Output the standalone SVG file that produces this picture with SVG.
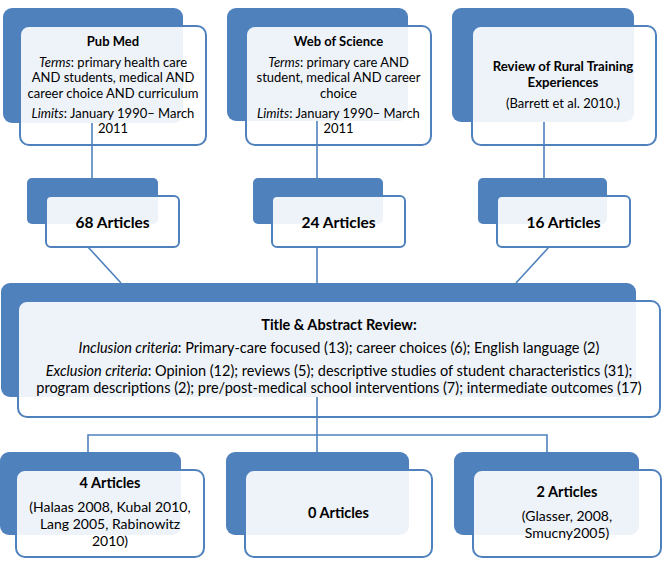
<svg xmlns="http://www.w3.org/2000/svg" width="664" height="570" viewBox="0 0 664 570">
<style>
.back{fill:#4F81BD}
.front{fill:#ffffff;fill-opacity:0.9;stroke:#4F81BD;stroke-width:2}
.con line,.con path{stroke:#4F81BD;stroke-width:1.6;fill:none}
text{font-family:Lato,"Open Sans","Liberation Sans",sans-serif;fill:#000;text-anchor:middle}
.t{font-size:13px;font-weight:bold}
.r{font-size:13.2px;font-weight:bold}
.b{font-size:13px}
.m{font-size:15.5px;font-weight:bold}
.tt{font-size:14.5px;font-weight:bold}
.c{font-size:14.5px}
.s{font-size:14px}
.h{font-size:14.5px;font-weight:bold}
.it{font-style:italic}
</style>
<rect width="664" height="570" fill="#ffffff"/>
<g id="pubmed">
<rect class="back" x="3" y="8" width="180" height="115" rx="9"/>
<rect class="front" x="20" y="26" width="186" height="119" rx="9"/>
<text class="t" x="113" y="46">Pub Med</text>
<text class="b" x="113" y="67"><tspan class="it">Terms</tspan>: primary health care</text>
<text class="b" x="113" y="82">AND students, medical AND</text>
<text class="b" x="113" y="98">career choice AND curriculum</text>
<text class="b" x="113" y="118"><tspan class="it">Limits</tspan>: January 1990– March</text>
<text class="b" x="113" y="133">2011</text>
</g>
<g id="wos">
<rect class="back" x="227" y="8" width="181" height="113" rx="9"/>
<rect class="front" x="246" y="26" width="185" height="119" rx="9"/>
<text class="t" x="338.5" y="46">Web of Science</text>
<text class="b" x="338.5" y="67"><tspan class="it">Terms</tspan>: primary care AND</text>
<text class="b" x="338.5" y="82">student, medical AND career</text>
<text class="b" x="338.5" y="98">choice</text>
<text class="b" x="338.5" y="118"><tspan class="it">Limits</tspan>: January 1990– March</text>
<text class="b" x="338.5" y="133">2011</text>
</g>
<g id="review">
<rect class="back" x="452" y="8" width="182" height="114" rx="9"/>
<rect class="front" x="472" y="26" width="184" height="119" rx="9"/>
<text class="r" x="563" y="71">Review of Rural Training</text>
<text class="r" x="563" y="87">Experiences</text>
<text class="b" x="563" y="108">(Barrett et al. 2010.)</text>
</g>
<g id="n68">
<rect class="back" x="27" y="178" width="131" height="46" rx="5"/>
<rect class="front" x="46" y="196" width="133" height="51" rx="5"/>
<text class="m" x="112.5" y="228">68 Articles</text>
</g>
<g id="n24">
<rect class="back" x="253" y="178" width="130" height="46" rx="5"/>
<rect class="front" x="272" y="196" width="133" height="51" rx="5"/>
<text class="m" x="338.5" y="228">24 Articles</text>
</g>
<g id="n16">
<rect class="back" x="478" y="178" width="129" height="46" rx="5"/>
<rect class="front" x="497" y="196" width="133" height="51" rx="5"/>
<text class="m" x="563.5" y="228">16 Articles</text>
</g>
<g id="screen">
<rect class="back" x="1" y="283" width="635" height="114" rx="9"/>
<rect class="front" x="18" y="301" width="642" height="116" rx="9"/>
<text class="tt" x="339" y="330">Title &amp; Abstract Review:</text>
<text class="c" x="339" y="353"><tspan class="it">Inclusion criteria</tspan>: Primary-care focused (13); career choices (6); English language (2)</text>
<text class="c" x="339" y="376"><tspan class="it">Exclusion criteria</tspan>: Opinion (12); reviews (5); descriptive studies of student characteristics (31);</text>
<text class="c" x="339" y="393">program descriptions (2); pre/post-medical school interventions (7); intermediate outcomes (17)</text>
</g>
<g id="r4">
<rect class="back" x="0" y="452" width="181" height="83" rx="9"/>
<rect class="front" x="16" y="470" width="188" height="87" rx="9"/>
<text class="h" x="110" y="488">4 Articles</text>
<text class="s" x="110" y="512">(Halaas 2008, Kubal 2010,</text>
<text class="s" x="110" y="529">Lang 2005, Rabinowitz</text>
<text class="s" x="110" y="546">2010)</text>
</g>
<g id="r0">
<rect class="back" x="226" y="452" width="183" height="83" rx="9"/>
<rect class="front" x="245" y="470" width="187" height="87" rx="9"/>
<text class="h" x="338.5" y="518">0 Articles</text>
</g>
<g id="r2">
<rect class="back" x="454" y="452" width="185" height="83" rx="9"/>
<rect class="front" x="473" y="470" width="188" height="87" rx="9"/>
<text class="h" x="567" y="497">2 Articles</text>
<text class="s" x="567" y="521">(Glasser, 2008,</text>
<text class="s" x="567" y="538">Smucny2005)</text>
</g>
<g class="con" id="connectors">
<line x1="92" y1="123" x2="92" y2="178"/>
<line x1="317" y1="121" x2="317" y2="178"/>
<line x1="544" y1="122" x2="544" y2="178"/>
<line x1="88" y1="247" x2="121" y2="283"/>
<line x1="317" y1="247" x2="317" y2="283"/>
<line x1="549" y1="247" x2="516" y2="283"/>
<line x1="317" y1="397" x2="317" y2="452"/>
<path d="M88 452V435H547V452"/>
</g>
</svg>
